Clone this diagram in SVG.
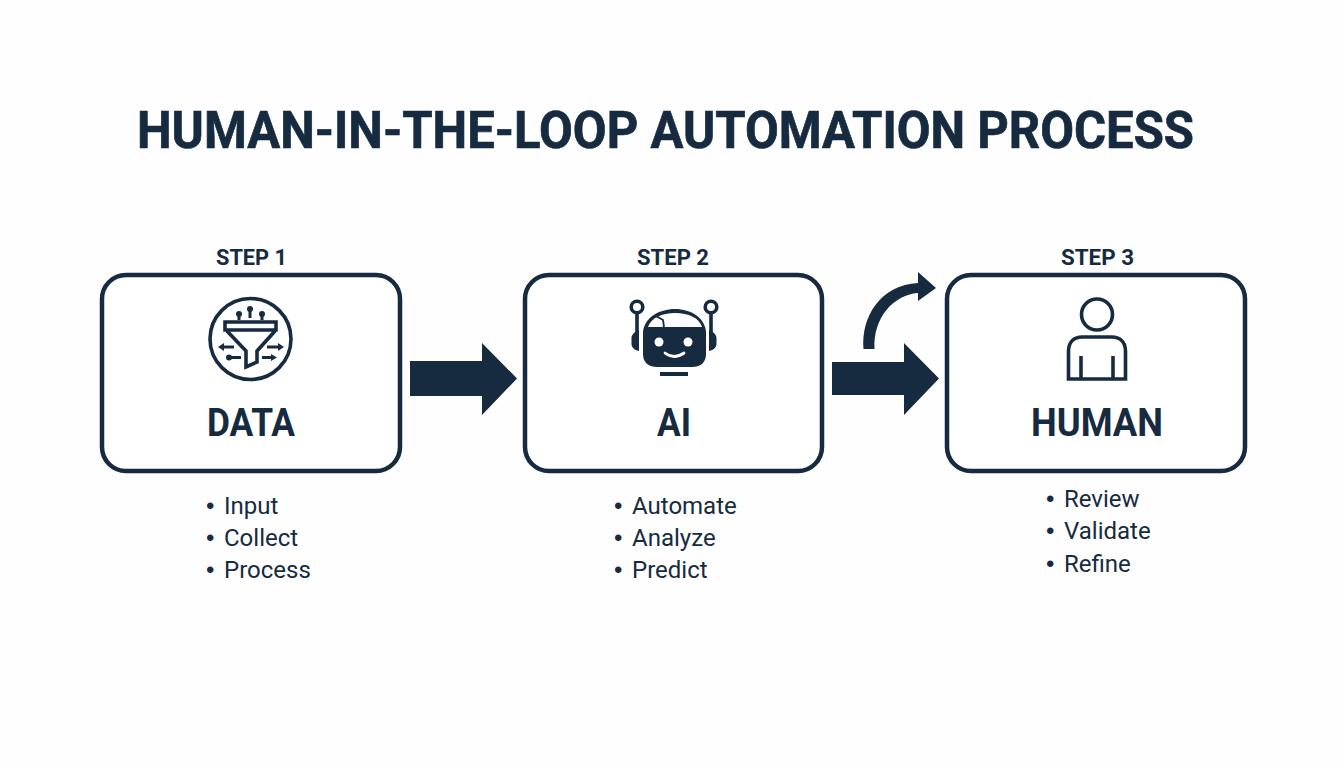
<svg xmlns="http://www.w3.org/2000/svg" width="1344" height="768" viewBox="0 0 1344 768">
<style>
text{font-family:Roboto,"Liberation Sans",sans-serif;fill:#162b40}
.title{font-size:52px;font-weight:700;stroke:#162b40;stroke-width:.7px}
.step{font-size:22.500px;font-weight:700}
.name{font-size:38px;font-weight:700}
.item{font-size:24px}
.b{font-family:"Liberation Sans",sans-serif;font-size:24px}
.box{fill:#fff;stroke:#162b40;stroke-width:4.500}
.ln{fill:none;stroke:#162b40;stroke-width:3.600}
.thin{fill:none;stroke:#162b40;stroke-width:3}
.f{fill:#162b40}
.w{fill:#fff}
</style>
<rect width="1344" height="768" fill="#fefefe"/>
<text id="title" class="title" x="137" y="148" textLength="1057" lengthAdjust="spacingAndGlyphs">HUMAN-IN-THE-LOOP AUTOMATION PROCESS</text>
<g id="connectors">
<path class="f" d="M410 361H482V343L517 378.500L482 415V396H410Z"/>
<path class="f" d="M832 362H904V343L939 378.500L904 415V395H832Z"/>
<path class="f" d="M863.500 349C861 316 881 285 918 283V272L936 288L918 301V293C893 295 873 318 874.500 349Z"/>
</g>
<g id="node-data">
<text class="step" x="216" y="264.500" textLength="71" lengthAdjust="spacingAndGlyphs">STEP 1</text>
<rect class="box" x="102" y="275" width="298" height="196" rx="24"/>
<circle class="ln" cx="250.500" cy="339" r="40.500"/>
<path class="ln" d="M225 322H276V330H225ZM227 331L246 351V367L257 362V351L275 331"/>
<path class="thin" d="M239 320V314M250 318V309M262 320V314"/>
<circle class="f" cx="239" cy="314" r="3"/><circle class="f" cx="250" cy="309" r="3"/><circle class="f" cx="262" cy="314" r="3"/>
<path class="thin" d="M221 347H234M229 357.500H241M267 347H280M262 357.500H273"/>
<path class="f" d="M218 347L224 343V351ZM284 347L278 343V351ZM277 357.500L271 354V361Z"/>
<circle class="f" cx="229" cy="357.500" r="3"/>
<text class="name" x="207" y="436" textLength="88" lengthAdjust="spacingAndGlyphs">DATA</text>
<g class="item"><text class="b" x="206" y="514">•</text><text x="224" y="514">Input</text><text class="b" x="206" y="546">•</text><text x="224" y="546">Collect</text><text class="b" x="206" y="578">•</text><text x="224" y="578">Process</text></g>
</g>
<g id="node-ai">
<text class="step" x="637" y="264.500" textLength="72" lengthAdjust="spacingAndGlyphs">STEP 2</text>
<rect class="box" x="525" y="275" width="297" height="196" rx="24"/>
<path class="f" d="M643 332C644 318 659 309 675 309C691 309 705 318 706 332V354C706 363 700 367 692 367H657C649 367 643 363 643 354Z"/>
<path class="w" d="M648 327C651 318 662 313 675 313C689 313 699 318 702 327Z"/>
<circle class="w" cx="659" cy="342" r="4.500"/><circle class="w" cx="688" cy="342" r="4.500"/>
<path d="M665 353Q674 360 684 353" fill="none" stroke="#fff" stroke-width="2.800" stroke-linecap="round"/>
<path class="f" d="M660 372H688V376H660Z"/>
<circle cx="637" cy="307" r="5.800" fill="none" stroke="#162b40" stroke-width="3.600"/><circle cx="711" cy="307" r="5.800" fill="none" stroke="#162b40" stroke-width="3.600"/>
<path class="ln" d="M637 313V335M711 313V335"/>
<path class="f" d="M639 330V351C634 350 631.500 347 631.500 344V338C631.500 335 634 332 639 330ZM709 330V351C714 350 716.500 347 716.500 344V338C716.500 335 714 332 709 330Z"/>
<path d="M656 316L663 320L664 327" fill="none" stroke="#162b40" stroke-width="1.800"/>
<text class="name" x="657" y="436" textLength="34" lengthAdjust="spacingAndGlyphs">AI</text>
<g class="item"><text class="b" x="614" y="514">•</text><text x="632" y="514">Automate</text><text class="b" x="614" y="546">•</text><text x="632" y="546">Analyze</text><text class="b" x="614" y="578">•</text><text x="632" y="578">Predict</text></g>
</g>
<g id="node-human">
<text class="step" x="1061" y="264.500" textLength="73" lengthAdjust="spacingAndGlyphs">STEP 3</text>
<rect class="box" x="947" y="275" width="298" height="196" rx="24"/>
<circle class="ln" cx="1097" cy="314.500" r="15.500"/>
<path class="ln" d="M1068.500 379V351C1068.500 341 1075 337 1082 337H1112C1119 337 1125.500 341 1125.500 351V379ZM1081 356V379M1113 356V379"/>
<text class="name" x="1031" y="436" textLength="132" lengthAdjust="spacingAndGlyphs">HUMAN</text>
<g class="item"><text class="b" x="1046" y="507">•</text><text x="1064" y="507">Review</text><text class="b" x="1046" y="539">•</text><text x="1064" y="539">Validate</text><text class="b" x="1046" y="572">•</text><text x="1064" y="572">Refine</text></g>
</g>
</svg>
